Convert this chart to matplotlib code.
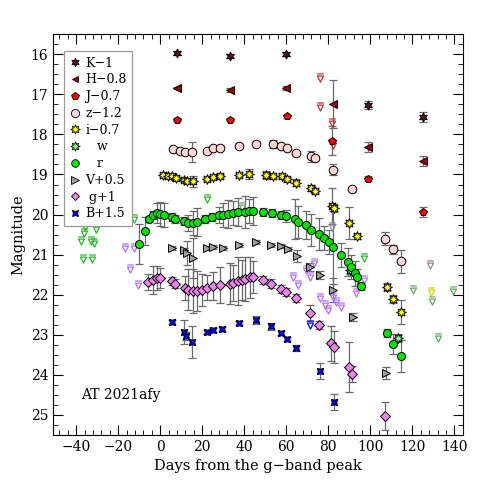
import matplotlib
matplotlib.use("Agg")
import matplotlib.pyplot as plt
from matplotlib.path import Path
from matplotlib.lines import Line2D
from matplotlib.ticker import MultipleLocator

plt.rcParams['font.family'] = ['DejaVu Serif']

# ---- data (days from g-band peak, shifted magnitudes) ----
k_day = [8.2, 33.2, 59.8, 98.7, 125.0]
k_mag = [15.97, 16.04, 16.00, 17.27, 17.57]
k_err = [0.04, 0.05, 0.04, 0.10, 0.12]

h_day = [8.0, 33.2, 59.8, 82.3, 98.9, 125.0]
h_mag = [16.84, 16.88, 16.83, 17.24, 18.31, 18.67]
h_err = [0.03, 0.05, 0.05, 0.60, 0.12, 0.12]

j_day = [8.2, 33.2, 60.3, 81.8, 98.9, 125.0]
j_mag = [17.63, 17.63, 17.55, 18.16, 19.11, 19.94]
j_err = [0.03, 0.03, 0.04, 0.36, 0.06, 0.12]

z_day = [6.3, 9.2, 12.0, 15.3, 22.4, 25.3, 28.5, 37.5, 45.6, 53.8, 57.4,
         60.4, 64.5, 71.7, 73.6, 82.3, 91.3, 106.8, 110.7, 114.7]
z_mag = [18.37, 18.42, 18.44, 18.44, 18.41, 18.35, 18.35, 18.29, 18.23, 18.23,
         18.29, 18.35, 18.47, 18.55, 18.60, 18.88, 19.35, 20.60, 20.87, 21.17]
z_err = [0.05, 0.05, 0.05, 0.25, 0.05, 0.05, 0.05, 0.05, 0.05, 0.10, 0.05,
         0.05, 0.05, 0.14, 0.05, 0.14, 0.05, 0.17, 0.12, 0.28]

i_day = [1.1, 3.5, 5.7, 7.3, 11.4, 12.7, 15.5, 22.4, 25.3, 28.5, 37.5, 42.4,
         50.3, 53.6, 57.8, 60.4, 64.5, 71.7, 73.6, 81.8, 82.7, 89.7, 93.6,
         107.9, 110.7, 114.7]
i_mag = [19.01, 19.03, 19.05, 19.08, 19.13, 19.15, 19.17, 19.11, 19.06, 19.03,
         19.01, 18.99, 19.01, 19.03, 19.03, 19.11, 19.20, 19.34, 19.40, 19.78,
         19.83, 20.21, 20.54, 21.80, 22.10, 22.42]
i_err = [0.05, 0.05, 0.05, 0.05, 0.05, 0.05, 0.13, 0.05, 0.05, 0.05, 0.05, 0.12,
         0.10, 0.05, 0.05, 0.05, 0.08, 0.08, 0.05, 0.45, 0.10, 0.40, 0.06,
         0.10, 0.10, 0.30]

w_day = [90.2, 113.1]
w_mag = [21.39, 23.07]
w_err = [0.10, 0.10]

r_day = [-10.3, -7.4, -5.5, -3.6, -1.6, 0.0, 1.6, 5.5, 7.1, 11.4, 13.3, 15.8,
         17.4, 21.4, 24.5, 28.2, 30.1, 32.4, 34.8, 37.2, 40.3, 42.4, 44.0,
         48.7, 53.0, 57.7, 60.1, 64.1, 65.6, 69.3, 72.0, 75.5, 77.8, 80.2,
         82.3, 86.0, 89.2, 90.7, 92.5, 93.6, 95.7, 107.9, 110.7, 114.7]
r_mag = [20.73, 20.42, 20.11, 20.00, 19.96, 19.98, 20.01, 20.06, 20.11, 20.17,
         20.20, 20.21, 20.19, 20.11, 20.06, 20.02, 20.01, 19.98, 19.96, 19.94,
         19.93, 19.92, 19.92, 19.94, 19.97, 20.01, 20.04, 20.12, 20.19, 20.27,
         20.38, 20.48, 20.58, 20.69, 20.82, 21.02, 21.19, 21.30, 21.47, 21.57,
         21.78, 22.96, 23.23, 23.52]
r_err = [0.50, 0.35, 0.08, 0.10, 0.25, 0.30, 0.30, 0.10, 0.10, 0.10, 0.20, 0.30,
         0.35, 0.10, 0.10, 0.20, 0.30, 0.35, 0.30, 0.35, 0.40, 0.30, 0.35,
         0.10, 0.10, 0.10, 0.15, 0.50, 0.40, 0.35, 0.40, 0.40, 0.30, 0.30,
         0.90, 0.30, 0.35, 0.30, 0.30, 0.20, 0.10, 0.10, 0.25, 0.40]

v_day = [5.5, 11.4, 12.7, 15.5, 22.4, 25.3, 29.8, 37.6, 45.6, 52.5, 57.7,
         60.9, 64.9, 71.5, 75.9, 82.3, 91.8, 107.3]
v_mag = [20.83, 20.89, 20.95, 21.08, 20.83, 20.81, 20.83, 20.77, 20.69, 20.77,
         20.79, 20.85, 21.03, 21.31, 21.50, 21.89, 22.55, 23.95]
v_err = [0.05, 0.05, 0.30, 0.50, 0.05, 0.05, 0.05, 0.05, 0.05, 0.05, 0.05,
         0.05, 0.15, 0.10, 0.10, 0.30, 0.10, 0.15]

g_day = [-5.6, -3.5, -1.6, 0.0, 5.5, 7.1, 11.9, 13.4, 15.8, 17.4, 19.8, 22.2,
         25.3, 28.5, 33.2, 34.8, 37.2, 38.8, 40.3, 42.7, 44.3, 48.7, 52.6,
         57.5, 60.1, 64.5, 71.5, 75.6, 81.5, 82.7, 89.7, 91.5, 106.8]
g_mag = [21.68, 21.64, 21.59, 21.58, 21.66, 21.72, 21.83, 21.87, 21.91, 21.91,
         21.89, 21.82, 21.78, 21.76, 21.72, 21.70, 21.66, 21.64, 21.60, 21.57,
         21.56, 21.64, 21.72, 21.86, 21.94, 22.09, 22.46, 22.75, 23.21, 23.31,
         23.81, 23.98, 25.03]
g_err = [0.20, 0.35, 0.30, 0.25, 0.10, 0.10, 0.30, 0.50, 0.55, 0.50, 0.40, 0.30,
         0.35, 0.45, 0.50, 0.45, 0.60, 0.50, 0.55, 0.50, 0.40, 0.10, 0.10,
         0.10, 0.10, 0.10, 0.20, 0.10, 0.44, 0.40, 0.62, 0.20, 0.35]

b_day = [5.5, 11.4, 12.3, 15.3, 22.4, 25.3, 29.6, 37.5, 45.6, 52.5, 57.7,
         60.4, 64.5, 75.9, 82.7]
b_mag = [22.69, 22.92, 23.04, 23.19, 22.92, 22.88, 22.86, 22.70, 22.63, 22.79,
         22.96, 23.11, 23.33, 23.90, 24.67]
b_err = [0.05, 0.30, 0.10, 0.40, 0.05, 0.05, 0.05, 0.05, 0.10, 0.08, 0.05,
         0.05, 0.08, 0.20, 0.20]

# upper limits
rlim_day = [-35.6, -36.4, -37.6, -32.9, -31.6, -30.8, -36.7, -32.5, -12.3, 22.4, 96.8]
rlim_mag = [20.31, 20.46, 20.65, 20.65, 20.70, 20.37, 21.10, 21.10, 20.11, 19.61, 21.08]
wlim_day = [38.8, 120.2, 129.4, 139.2, 132.1]
wlim_mag = [19.82, 21.87, 22.16, 21.91, 23.08]
glim_day = [-16.6, -12.7, -14.2, -10.6, 63.3, 65.6, 69.3, 71.2, 73.1, 75.9,
            78.3, 79.9, 82.3, 83.8, 86.2, 93.0, 96.8]
glim_mag = [20.83, 20.83, 21.35, 21.76, 21.55, 21.76, 21.39, 21.55, 21.22, 22.09,
            22.26, 22.38, 22.05, 22.19, 22.30, 21.96, 21.64]
ilim_day = [128.9]
ilim_mag = [21.94]
zlim_day = [128.6]
zlim_mag = [21.25]
nirlim_day = [76.0, 76.0, 81.8, 82.3]
nirlim_mag = [16.59, 17.32, 17.71, 18.27]
vlim_day = [81.8]
vlim_mag = [20.31]
blim_day = [71.5]
blim_mag = [22.75]

# marker for upper limits: bar with open triangle below
lim_marker = Path(
    [(-0.55, 0.75), (0.55, 0.75), (-0.5, 0.4), (0.5, 0.4), (0.0, -0.6), (-0.5, 0.4)],
    [Path.MOVETO, Path.LINETO, Path.MOVETO, Path.LINETO, Path.LINETO, Path.CLOSEPOLY])

fig = plt.figure(figsize=(4.96, 4.96), dpi=100)
ax = fig.add_axes([0.107, 0.123, 0.826, 0.808])

ecol = '#6a6a6a'
bands = [
    (k_day, k_mag, k_err, (6, 1, 0), '#5c1018', 6.5, 'K\u22121'),
    (h_day, h_mag, h_err, '<', '#a00000', 5.2, 'H\u22120.8'),
    (j_day, j_mag, j_err, 'p', '#ff0000', 5.8, 'J\u22120.7'),
    (z_day, z_mag, z_err, 'o', '#ffd6d6', 6.2, 'z\u22121.2'),
    (i_day, i_mag, i_err, (8, 1, 0), '#ffff00', 7.2, 'i\u22120.7'),
    (w_day, w_mag, w_err, (8, 1, 0), '#90ee90', 7.2, '   w'),
    (r_day, r_mag, r_err, 'o', '#00e600', 5.8, '   r'),
    (v_day, v_mag, v_err, '>', '#a0a0a0', 5.6, 'V+0.5'),
    (g_day, g_mag, g_err, 'D', '#ee82ee', 4.6, ' g+1'),
    (b_day, b_mag, b_err, (4, 1, 45), '#0000ff', 6.5, 'B+1.5'),
]

handles = []
for day, mag, err, mk, col, ms, lab in bands:
    ax.errorbar(day, mag, yerr=err, fmt='none', ecolor=ecol, elinewidth=0.9,
                capsize=2.6, capthick=0.9, zorder=2)
    ax.plot(day, mag, ls='none', marker=mk, ms=ms, mfc=col, mec='black',
            mew=0.7, zorder=3)
    handles.append(Line2D([], [], ls='none', marker=mk, ms=ms * 0.95, mfc=col,
                          mec='black', mew=0.6, label=lab))

limits = [
    (rlim_day, rlim_mag, '#22bb22'),
    (wlim_day, wlim_mag, '#66aa66'),
    (glim_day, glim_mag, '#b070ff'),
    (ilim_day, ilim_mag, '#d4d400'),
    (zlim_day, zlim_mag, '#a08080'),
    (nirlim_day, nirlim_mag, '#c03030'),
    (vlim_day, vlim_mag, '#909090'),
    (blim_day, blim_mag, '#0000ff'),
]
for day, mag, col in limits:
    ax.plot(day, mag, ls='none', marker=lim_marker, ms=6.5, mfc='none', mec=col,
            mew=0.9, zorder=2.5)

ax.set_xlim(-51, 144)
ax.set_ylim(25.5, 15.5)
ax.xaxis.set_major_locator(MultipleLocator(20))
ax.xaxis.set_minor_locator(MultipleLocator(4))
ax.yaxis.set_major_locator(MultipleLocator(1))
ax.yaxis.set_minor_locator(MultipleLocator(0.25))
ax.tick_params(which='both', direction='in', top=True, right=True, labelsize=10)
ax.tick_params(which='major', length=7)
ax.tick_params(which='minor', length=3.5)

ax.set_xlabel('Days from the g\u2212band peak', fontsize=10.5)
ax.set_ylabel('Magnitude', fontsize=10.5)

ax.text(0.068, 0.10, 'AT 2021afy', transform=ax.transAxes, fontsize=10,
        va='center', ha='left')

leg = ax.legend(handles=handles, loc='upper left', bbox_to_anchor=(0.027, 0.958),
                borderaxespad=0, fontsize=9, handlelength=0.9, handletextpad=0.35,
                labelspacing=0.3, borderpad=0.45, fancybox=False, framealpha=1)
leg.get_frame().set_edgecolor('#999999')
leg.get_frame().set_linewidth(0.9)

fig.savefig('out.png', dpi=100)
